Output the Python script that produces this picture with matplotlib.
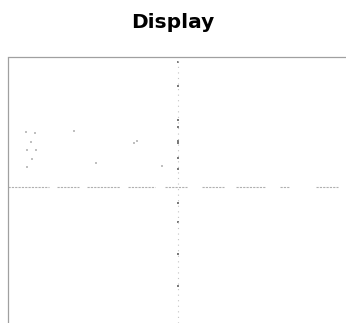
import numpy as np
import matplotlib
matplotlib.use("Agg")
import matplotlib.pyplot as plt

plt.rcParams["font.family"] = ["DejaVu Sans"]

TITLE = "Display"

# crosshair position (data units, 0-100 both axes)
cross_x = 50.3
cross_y = 51.1

# broken horizontal trace segments (start, end) along the crosshair
h_segments = [(0, 12), (14.5, 21), (23.5, 33), (35.5, 43.5), (46.5, 53),
              (57.5, 64), (67.5, 76), (80.5, 83.5), (91, 97.5)]

# faint specks scattered in the upper left quadrant
speck_x = [5.3, 8.0, 19.5, 6.8, 5.6, 8.3, 7.1, 5.6, 26.0, 37.3, 38.2, 45.6]
speck_y = [71.8, 71.4, 72.2, 68.0, 65.0, 65.0, 61.7, 58.6, 60.2, 67.7, 68.4, 59.0]

# darker marks along the vertical trace
vmark_y = [98.0, 89.0, 76.5, 73.5, 68.5, 67.5, 62.0, 58.0, 45.0, 38.0, 26.0, 14.0]


def main():
    fig = plt.figure(figsize=(3.46, 3.23), dpi=100)
    ax = fig.add_axes([8 / 346, 0, 1 - 8 / 346, 266 / 323])
    ax.set_xlim(0, 100)
    ax.set_ylim(0, 100)

    for side in ["right", "bottom"]:
        ax.spines[side].set_visible(False)
    for side in ["top", "left"]:
        ax.spines[side].set_color("#a0a0a0")
        ax.spines[side].set_linewidth(0.9)
        ax.spines[side].set_linestyle((0, (2, 1)))
    ax.set_xticks([])
    ax.set_yticks([])

    # vertical dotted trace
    ax.axvline(cross_x, color="#c4c4c4", lw=0.8, ls=(0, (1, 4)))
    ax.scatter([cross_x] * len(vmark_y), vmark_y, s=1.2, color="#7a7a7a",
               marker="s", linewidths=0)

    # horizontal broken trace
    for x0, x1 in h_segments:
        ax.plot([x0, x1], [cross_y, cross_y], color="#b0b0b0", lw=0.8,
                ls=(0, (2, 1)))

    ax.scatter(speck_x, speck_y, s=0.8, color="#c0c0c0", marker="s",
               linewidths=0)

    fig.text(0.5, 1 - 22 / 323, TITLE, ha="center", va="center",
             fontsize=14.5, fontweight="bold")

    fig.savefig("out.png", dpi=100)


if __name__ == "__main__":
    main()
